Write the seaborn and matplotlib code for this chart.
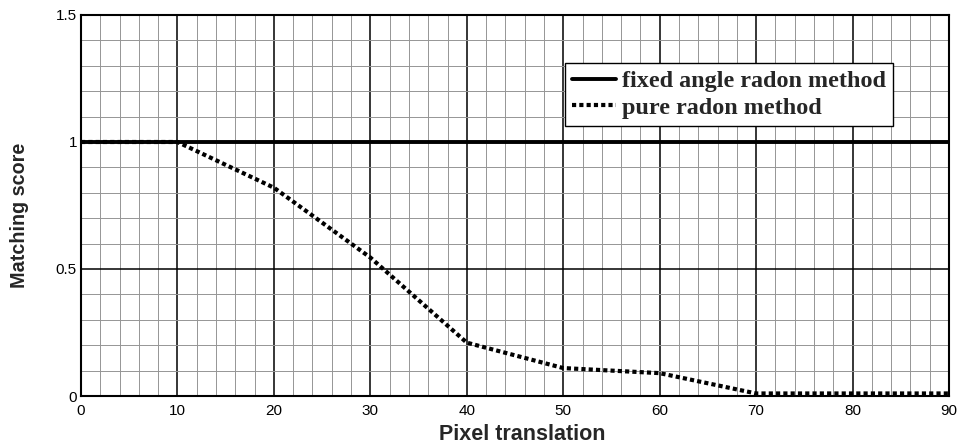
import matplotlib
matplotlib.use("Agg")
import matplotlib.pyplot as plt
import seaborn as sns
import pandas as pd
import numpy as np
from matplotlib.ticker import MultipleLocator

x_vals = [0, 10, 20, 30, 40, 50, 60, 70, 80, 90]
fixed_angle = [1, 1, 1, 1, 1, 1, 1, 1, 1, 1]
pure_radon = [1.0, 1.0, 0.82, 0.545, 0.21, 0.11, 0.09, 0.01, 0.01, 0.01]
labels = ["fixed angle radon method", "pure radon method"]
x_ticks = [0, 10, 20, 30, 40, 50, 60, 70, 80, 90]
y_ticks = [0, 0.5, 1, 1.5]
y_tick_labels = ["0", "0.5", "1", "1.5"]

sns.set_style("white")
plt.rcParams['font.family'] = ['Liberation Sans', 'DejaVu Sans']

df = pd.DataFrame({
    "x": x_vals + x_vals,
    "y": fixed_angle + pure_radon,
    "method": [labels[0]] * len(x_vals) + [labels[1]] * len(x_vals),
})

fig = plt.figure(figsize=(9.58, 4.46), dpi=100)
ax = fig.add_axes([0.0846, 0.1121, 0.9060, 0.8543])

sns.lineplot(data=df[df.method == labels[0]], x="x", y="y", ax=ax,
             color="black", lw=2.8, label=labels[0], zorder=5)
sns.lineplot(data=df[df.method == labels[1]], x="x", y="y", ax=ax,
             color="black", lw=3.0, label=labels[1], zorder=5)
line2 = ax.get_lines()[1]
line2.set_dashes((1, 0.75))
line2.set_dash_capstyle("butt")

ax.set_xlim(0, 90)
ax.set_ylim(0, 1.5)
ax.set_xticks(x_ticks)
ax.set_yticks(y_ticks)
ax.set_yticklabels(y_tick_labels)
ax.xaxis.set_minor_locator(MultipleLocator(2))
ax.yaxis.set_minor_locator(MultipleLocator(0.1))
ax.grid(which="major", color="black", lw=1.1, zorder=1)
ax.grid(which="minor", color="#959595", lw=0.7, zorder=0)
ax.set_axisbelow(True)
ax.tick_params(which="both", length=0, labelsize=11, colors="black")
ax.tick_params(axis="x", pad=6)
ax.tick_params(axis="y", pad=3)
for s in ax.spines.values():
    s.set_color("black")
    s.set_linewidth(1.5)

ax.set_xlabel("Pixel translation", fontsize=15.5, fontweight="bold")
ax.xaxis.set_label_coords(0.508, -0.074)
ax.set_ylabel("Matching score", fontsize=14.2, fontweight="bold")
ax.yaxis.set_label_coords(-0.060, 0.475)

leg = ax.legend(loc="upper left", bbox_to_anchor=(0.5576, 0.874),
                prop={"family": "Liberation Serif", "weight": "bold", "size": 17.4},
                frameon=True, fancybox=False, handlelength=1.8, handletextpad=0.25,
                borderpad=0.3, labelspacing=0.2, borderaxespad=0)
leg.get_frame().set_edgecolor("black")
leg.get_frame().set_linewidth(1.0)
leg.get_frame().set_alpha(1)
leg.set_zorder(10)

fig.savefig("out.png", dpi=100)
